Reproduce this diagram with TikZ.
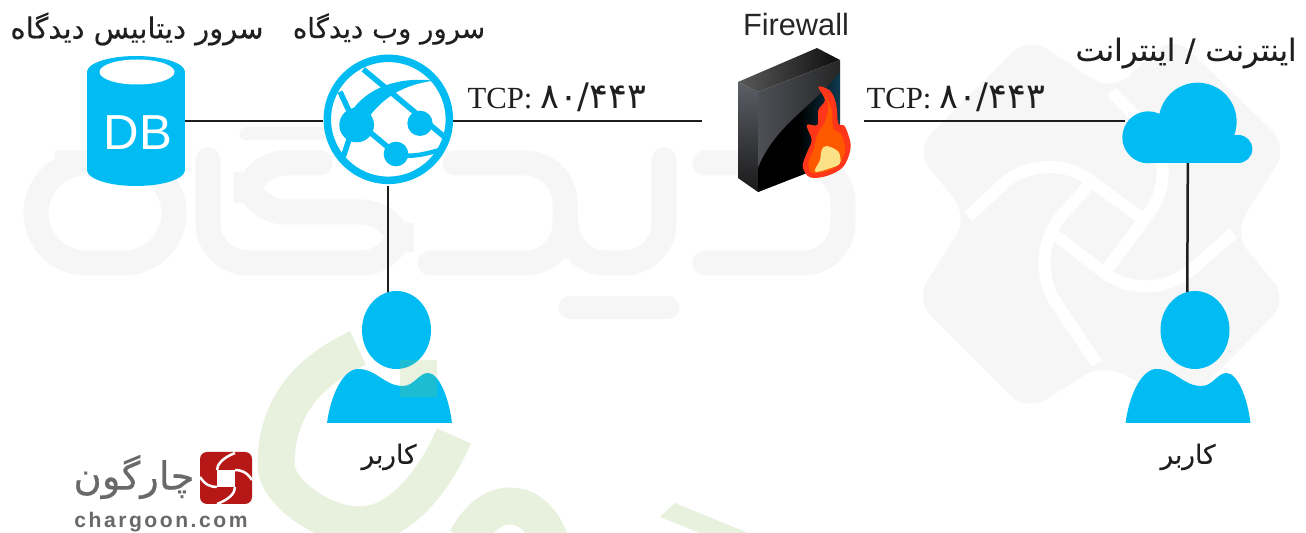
\documentclass[tikz,border=0pt]{standalone}
\usepackage{fontspec}
\usepackage{xcolor}
\usepackage{tikz}
\usetikzlibrary{positioning,calc}
\setmainfont{Liberation Sans}
\newfontfamily\tcpfont{Liberation Serif}
\newfontfamily\arabicfont[Script=Arabic,FakeBold=0.35]{DejaVu Sans}
\newfontfamily\digitfont[Script=Arabic]{DejaVu Sans}
\TeXXeTstate=1
\definecolor{dgblue}{RGB}{0,188,242}
\definecolor{dgpale}{RGB}{246,246,246}
\definecolor{dggreen}{RGB}{232,241,221}
\definecolor{dgleaf}{RGB}{140,190,90}
\definecolor{dgred}{RGB}{182,24,24}
\definecolor{dggray}{RGB}{105,105,108}
\definecolor{dgline}{RGB}{30,30,30}
\definecolor{fwside}{RGB}{92,95,103}
\definecolor{fwface}{RGB}{78,80,86}
\definecolor{fwteal}{RGB}{14,58,80}
\tikzstyle{link} = [line width=0.05cm,color=dgline]
\tikzstyle{iconbox} = [rectangle, inner sep=0pt, outer sep=0pt]
\tikzstyle{fatext} = [inner sep=0pt, text=black!88, font=\arabicfont\fontsize{16.5}{18}\selectfont]
\tikzstyle{tcptext} = [inner sep=0pt, text=black!88, font=\tcpfont\fontsize{17.5}{20}\selectfont]
\tikzstyle{zoomed} = [x=0.006667cm,y=-0.006667cm]
\tikzstyle{paleline} = [line width=0.5cm, color=dgpale, line cap=round, rounded corners=0.8cm]
\tikzstyle{bandline} = [white, line width=0.24cm, rounded corners=1.1cm]
\tikzstyle{greenline} = [line width=0.74cm, color=dggreen]
\tikzset{
  person/.pic={
    \fill[dgblue] (7.5,-93) ellipse (34.5 and 39);
    \fill[dgblue] (-62,0) .. controls (-58,-30) and (-45,-54) .. (-31,-54) .. controls (-12,-54) and (-5,-37) .. (14,-37) .. controls (25,-37) and (30,-50) .. (39,-50) .. controls (50,-50) and (60,-25) .. (63,0) -- cycle;
  }
}
\begin{document}
\begin{tikzpicture}[x=0.02cm,y=-0.02cm]
\path[use as bounding box, fill=white] (0,0) rectangle (1306,533);
\clip (0,0) rectangle (1306,533);
% Watermark letters
\draw[paleline, rounded corners=1cm] (105,163) -- (174,163) -- (174,263) -- (36,263) -- (36,163) -- cycle;
\draw[paleline] (208,160) -- (208,263) -- (401,263) -- (401,212) -- (246,212) -- (246,163) -- (320,163);
\draw[line width=0.26cm, color=dgpale, line cap=round] (246,134) -- (400,134);
\draw[paleline] (430,263) -- (565,263) -- (565,163) -- (455,163);
\draw[paleline] (566,225) -- (566,263) -- (664,263) -- (664,160);
\draw[paleline] (705,163) -- (843,163) -- (843,263) -- (705,263);
\draw[line width=0.46cm, color=dgpale, line cap=round] (570,308) -- (668,308);
% Watermark diamonds
\begin{scope}[shift={(900,30)},zoomed]
\fill[dgpale, rounded corners=0.45cm] (385,20) -- (635,185) -- (820,15) -- (1165,350) -- (1000,610) -- (1165,810) -- (850,1130) -- (610,1000) -- (380,1145) -- (45,810) -- (205,560) -- (45,360) -- cycle;
\draw[bandline] (205,560) -- (430,350) -- (740,575);
\draw[bandline] (635,185) -- (850,410) -- (620,720);
\draw[bandline] (580,450) -- (375,680) -- (590,1000);
\draw[bandline] (465,615) -- (745,830) -- (1000,610);
\end{scope}
% Green watermark
\draw[greenline] (358,348) .. controls (300,375) and (276,415) .. (276,465) .. controls (276,490) and (320,525) .. (360,525) .. controls (400,525) and (435,480) .. (454,436);
\draw[greenline] (466,540) .. controls (480,515) and (495,506) .. (510,506) .. controls (525,506) and (540,515) .. (550,540);
\fill[dggreen] (675,503) -- (748,533) -- (700,533) -- (660,517) -- cycle;
% Connectors
\node[iconbox, minimum width=1.96cm, minimum height=2.58cm] (db) at (136,121) {};
\node[iconbox, circle, minimum size=2.6cm] (web) at (388,121) {};
\node[iconbox, minimum width=3.24cm, minimum height=2.4cm] (fw) at (783,121) {};
\node[iconbox, minimum width=2.54cm, minimum height=1.6cm] (cloud) at (1188,123) {};
\node[iconbox, minimum width=2.5cm, minimum height=2.62cm] (userA) at (388,358) {};
\node[iconbox, minimum width=2.5cm, minimum height=2.62cm] (userB) at (1187,358) {};
\draw[link] (db) -- (web);
\draw[link] (web) -- (fw);
\draw[link] (fw) -- (fw -| cloud.west);
\draw[link] (web) -- (userA);
\draw[link] (cloud) -- (userB);
% Database
\fill[dgblue] (87,72) rectangle (185,170);
\fill[dgblue] (136,72) ellipse (49 and 16);
\fill[dgblue] (136,170) ellipse (49 and 16);
\fill[white] (137,72) ellipse (37.5 and 12.5);
\node[iconbox, text=white, font=\fontsize{28}{30}\selectfont] (dblabel) at ([xshift=0.04cm,yshift=-0.24cm]db.center) {DB};
% Web server
\begin{scope}[shift={(320,50)},zoomed]
\fill[white] (205,208) circle (190);
\draw[dgblue, line width=0.15cm] (205,208) circle (183);
\draw[dgblue, line width=0.11cm] (130,58) -- (375,262);
\draw[dgblue, line width=0.11cm] (60,125) -- (95,200);
\draw[dgblue, line width=0.11cm] (90,260) -- (70,320);
\draw[dgblue, line width=0.11cm] (130,230) -- (228,312);
\draw[dgblue, line width=0.09cm] (228,312) .. controls (280,325) and (320,310) .. (368,298);
\fill[dgblue] (90,190) .. controls (140,110) and (240,80) .. (340,92) .. controls (250,105) and (190,140) .. (140,210) -- cycle;
\fill[dgblue] (110,225) circle (52);
\fill[dgblue] (300,220) circle (38);
\fill[dgblue] (228,312) circle (37);
\end{scope}
% Firewall
\shade[top color=fwside, bottom color=black!90] (738,82) -- (758,92) -- (758,192) -- (738,178) -- cycle;
\shade[left color=black!65, right color=black!95] (738,82) -- (817,48) -- (840,60) -- (758,92) -- cycle;
\shade[left color=fwface, right color=black!85] (758,92) -- (840,60) -- (840,160) -- (758,192) -- cycle;
\shade[left color=black, right color=fwteal, middle color=black] (758,192) -- (758,168) .. controls (775,125) and (815,105) .. (840,72) -- (840,160) -- cycle;
\begin{scope}[shift={(730,60)},zoomed]
\fill[red!75!orange!90!white] plot[smooth cycle, tension=0.55] coordinates {(265,80) (300,92) (318,130) (325,190) (345,200) (362,260) (340,320) (290,348) (240,352) (218,320) (230,280) (245,240) (230,195) (262,195) (265,150) (285,120)};
\fill[orange!70!red] plot[smooth cycle, tension=0.55] coordinates {(285,105) (305,150) (310,205) (335,225) (345,275) (325,315) (285,335) (245,338) (235,310) (250,270) (262,225) (285,185) (295,140)};
\fill[yellow!55!orange!45!white] plot[smooth cycle, tension=0.55] coordinates {(290,258) (325,275) (330,310) (300,325) (255,335) (270,300) (275,270)};
\end{scope}
% Cloud
\begin{scope}[shift={(900,30)},zoomed]
\fill[dgblue] (745,322) circle (78);
\fill[dgblue] (893,275) circle (117);
\fill[dgblue] (1015,357) circle (42);
\fill[dgblue] (745,315) rectangle (1015,400);
\end{scope}
% Users
\pic at (389,423) {person};
\pic at (1187.5,423) {person};
\fill[dgleaf, opacity=0.2] (400,360) rectangle (437,397);
% Labels
\node[fatext] (dbname) at (137,29) {\beginR سرور دیتابیس دیدگاه\endR};
\node[fatext, font=\arabicfont\fontsize{15.7}{18}\selectfont] (webname) at (389,29) {\beginR سرور وب دیدگاه\endR};
\node[iconbox, text=black!85, font=\fontsize{17.5}{20}\selectfont] (fwname) at (796,25) {Firewall};
\node[fatext, font=\arabicfont\fontsize{17.5}{20}\selectfont] (netname) at (1186,53) {\beginR اینترنت / اینترانت\endR};
\node[tcptext] (tcpA) at (557,97) {TCP: {\digitfont\fontsize{20}{20}\selectfont ۸۰/۴۴۳}};
\node[tcptext] (tcpB) at (956,97) {TCP: {\digitfont\fontsize{20}{20}\selectfont ۸۰/۴۴۳}};
\node[fatext, font=\arabicfont\fontsize{15}{18}\selectfont] (userAname) at (389,457) {\beginR کاربر\endR};
\node[fatext, font=\arabicfont\fontsize{15}{18}\selectfont] (userBname) at (1188,457) {\beginR کاربر\endR};
% Chargoon logo
\fill[dgred, rounded corners=0.14cm] (200,452) rectangle (252,504);
\fill[white] (217,470) rectangle (235,487);
\draw[white, line width=0.05cm] (235,453) .. controls (222,458) and (217,465) .. (217,470);
\draw[white, line width=0.05cm] (252,480) .. controls (247,472) and (241,470) .. (235,470);
\draw[white, line width=0.05cm] (217,504) .. controls (230,499) and (235,493) .. (235,487);
\draw[white, line width=0.05cm] (200,477) .. controls (205,485) and (211,487) .. (217,487);
\node[iconbox, text=dggray, font=\arabicfont\fontsize{22}{26}\selectfont] (brandfa) at (134,477) {\beginR چارگون\endR};
\node[iconbox, text=dggray, font=\addfontfeature{LetterSpace=12}\bfseries\fontsize{12}{14}\selectfont] (brand) at (161,522) {chargoon.com};
\end{tikzpicture}
\end{document}
